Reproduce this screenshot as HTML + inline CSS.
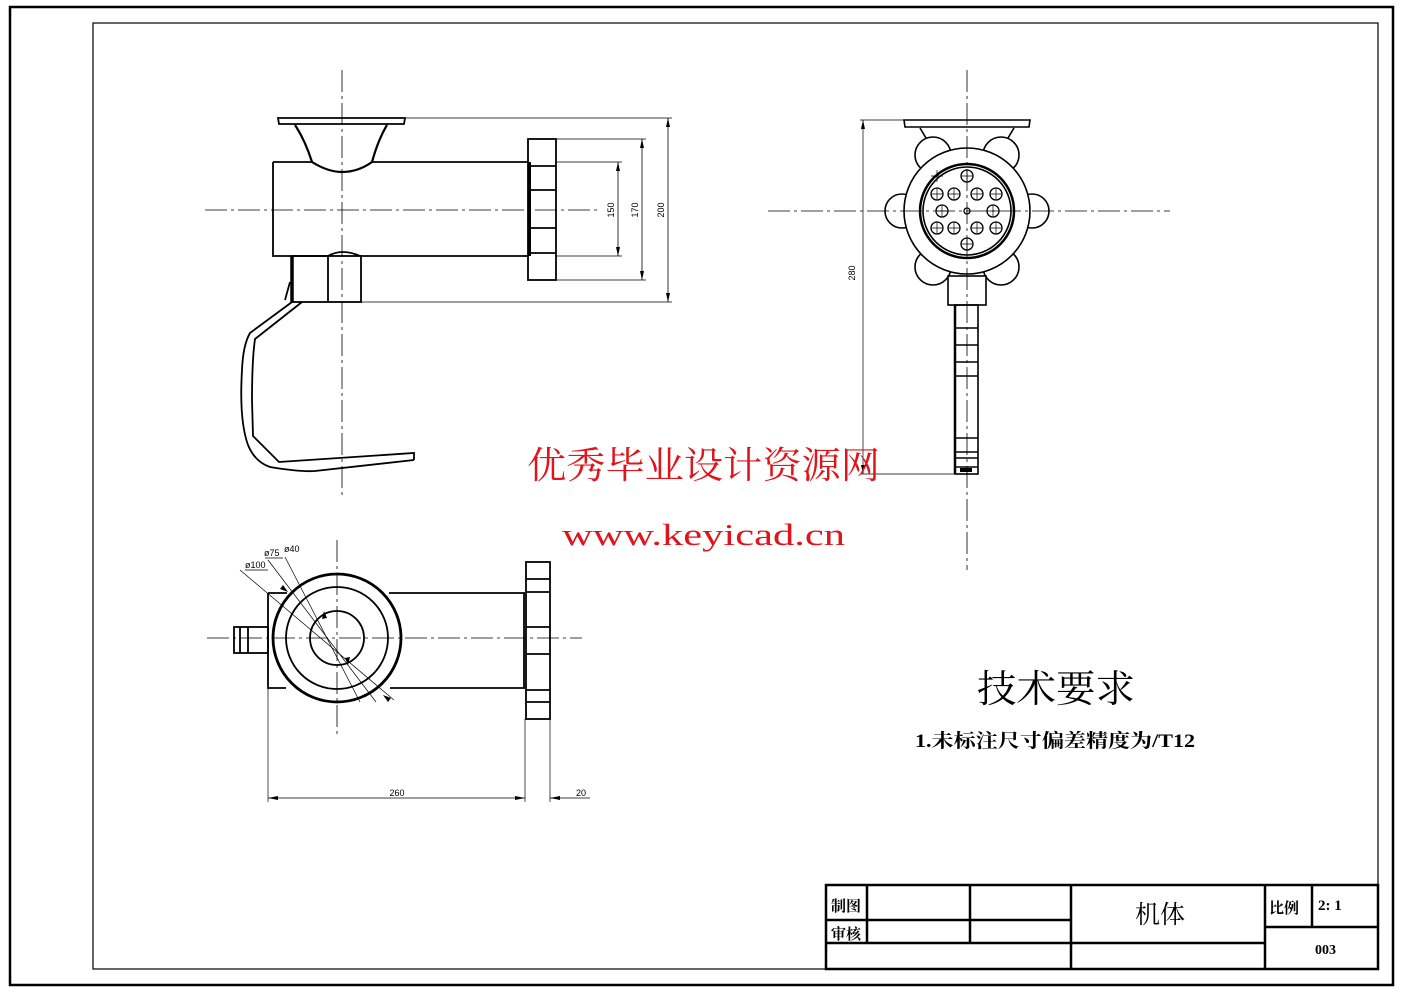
<!DOCTYPE html>
<html><head><meta charset="utf-8"><style>
html,body{margin:0;padding:0;background:#fff;}
svg{display:block;}
.cjk{font-family:"Liberation Serif","Noto Serif CJK SC","Noto Sans CJK SC",serif;}
</style></head><body>
<svg width="1403" height="992" viewBox="0 0 1403 992" xmlns="http://www.w3.org/2000/svg">
<g fill="none" stroke="#000">
<rect x="10" y="7" width="1383" height="978" stroke-width="2.5"/>
<rect x="93" y="23" width="1285" height="946" stroke-width="1.2"/>

<!-- VIEW 1 -->
<g stroke-width="0.8" stroke-dasharray="22,4,3,4">
<line x1="205" y1="210" x2="600" y2="210"/>
<line x1="342" y1="70" x2="342" y2="497"/>
</g>
<g stroke-width="1.8">
<path d="M278,118 L405,118 L404,124 L279,124 Z"/>
<path d="M295,125 Q305,140 312,162 Q328,172 342,172 Q358,172 372,162 Q378,140 387,125" stroke-width="2.2"/>
<path d="M273,162 L312,162 M372,162 L528,162 M273,162 L273,256 L328,256 M360,256 L528,256"/>
<path d="M328,256 Q342,248 360,256"/>
<rect x="528" y="139" width="28" height="141"/>
<path d="M528,166 H556 M528,190 H556 M528,228 H556 M528,253 H556"/>
<line x1="529.5" y1="162" x2="529.5" y2="256" stroke-width="3"/>
<rect x="292" y="256" width="69" height="46"/>
<line x1="328" y1="256" x2="328" y2="302"/>
<line x1="292" y1="256" x2="292" y2="302" stroke-width="3.5"/>
<path d="M292,302 L250,333 Q243,345 242,370 Q239,420 248,445 Q255,462 270,467 Q300,472 315,471 L414,460"/>
<path d="M302,302 L255,339 Q252,360 252,400 L253,436 L279,462 L414,453 L414,460"/>
<path d="M290,282 L285,300"/>
</g>
<g stroke-width="0.8">
<line x1="405" y1="118" x2="672" y2="118"/>
<line x1="361" y1="302" x2="672" y2="302"/>
<line x1="556" y1="139" x2="646" y2="139"/>
<line x1="556" y1="280" x2="646" y2="280"/>
<line x1="556" y1="162" x2="622" y2="162"/>
<line x1="556" y1="256" x2="622" y2="256"/>
<line x1="618" y1="162" x2="618" y2="256"/>
<line x1="642" y1="139" x2="642" y2="280"/>
<line x1="668" y1="118" x2="668" y2="302"/>
</g>
<g fill="#000" stroke="none">
<path d="M618,162 l-2,9 h4z M618,256 l-2,-9 h4z M642,139 l-2,9 h4z M642,280 l-2,-9 h4z M668,118 l-2,9 h4z M668,302 l-2,-9 h4z"/>
</g>

<!-- VIEW 2 -->
<g stroke-width="1.6">
<path d="M904,120 L1030,120 L1029,127 L905,127 Z"/>
<path d="M920,128 L932,148 M1014,128 L1002,148"/>
<g fill="#fff">
<circle cx="902" cy="211" r="17"/>
<circle cx="1032" cy="211" r="17"/>
<circle cx="933" cy="155" r="18"/>
<circle cx="1001" cy="155" r="18"/>
<circle cx="933" cy="267" r="18"/>
<circle cx="1001" cy="267" r="18"/>
<circle cx="967" cy="211" r="63"/>
</g>
<circle cx="967" cy="211" r="47" stroke-width="2.5"/>
<circle cx="967" cy="211" r="44"/>
<rect x="948" y="276" width="38" height="29" fill="#fff"/>
<rect x="955" y="305" width="23" height="169"/>
<path d="M955,328 H978 M955,345 H978 M955,362 H978 M955,376 H978 M955,438 H978 M955,452 H978 M955,458 H978 M955,467 H978"/>
<line x1="955" y1="305" x2="955" y2="474" stroke-width="2.5"/>
</g>
<g stroke-width="0.8" stroke-dasharray="22,4,3,4">
<line x1="768" y1="211" x2="1170" y2="211"/>
<line x1="967" y1="70" x2="967" y2="570"/>
</g>
<g stroke-width="1.3">
<circle cx="967" cy="176" r="6"/><circle cx="937" cy="194" r="6"/><circle cx="954" cy="194" r="6"/>
<circle cx="977" cy="194" r="6"/><circle cx="996" cy="194" r="6"/><circle cx="942" cy="211" r="6"/>
<circle cx="993" cy="211" r="6"/><circle cx="937" cy="228" r="6"/><circle cx="954" cy="228" r="6"/>
<circle cx="977" cy="228" r="6"/><circle cx="996" cy="228" r="6"/><circle cx="967" cy="244" r="6"/>
<circle cx="967" cy="211" r="3"/>
</g>
<g stroke-width="0.7">
<path d="M931,176h12M961,176h12M937,170v12M967,170v12
M931,194h12M948,194h12M971,194h12M990,194h12M937,188v12M954,188v12M977,188v12M996,188v12
M936,211h12M987,211h12M942,205v12M993,205v12
M931,228h12M948,228h12M971,228h12M990,228h12M937,222v12M954,222v12M977,222v12M996,222v12
M961,244h12M967,238v12"/>
<line x1="860" y1="120" x2="904" y2="120"/>
<line x1="860" y1="474" x2="958" y2="474"/>
<line x1="863" y1="120" x2="863" y2="474"/>
</g>
<path d="M863,120 l-2,9 h4z M863,474 l-2,-9 h4z" fill="#000" stroke="none"/>
<rect x="960" y="468" width="12" height="4" fill="#000" stroke="none"/>

<!-- VIEW 3 -->
<g stroke-width="0.8" stroke-dasharray="22,4,3,4">
<line x1="207" y1="638" x2="582" y2="638"/>
<line x1="337" y1="540" x2="337" y2="738"/>
</g>
<g stroke-width="1.8">
<path d="M268,593 H287 M389,593 H525 M268,593 V688 H286 M390,688 H525"/>
<rect x="526" y="562" width="24" height="157"/>
<path d="M526,579H550M526,592H550M526,627H550M526,654H550M526,690H550M526,702H550"/>
<line x1="524" y1="593" x2="524" y2="688"/>
<rect x="234" y="627" width="34" height="26"/>
<path d="M240,627V653M248,627V653"/>
<circle cx="337" cy="638" r="64" stroke-width="2.8"/>
<circle cx="337" cy="638" r="51"/>
<circle cx="337" cy="638" r="27"/>
</g>
<g stroke-width="0.7">
<line x1="240" y1="570" x2="394" y2="700"/>
<line x1="268" y1="560" x2="376" y2="702"/>
<line x1="285" y1="557" x2="360" y2="702"/>
<line x1="245" y1="570" x2="268" y2="570"/>
<line x1="265" y1="558" x2="283" y2="558"/>
<line x1="268" y1="688" x2="268" y2="802"/>
<line x1="525" y1="719" x2="525" y2="802"/>
<line x1="550" y1="719" x2="550" y2="802"/>
<line x1="268" y1="798" x2="525" y2="798"/>
<line x1="550" y1="798" x2="590" y2="798"/>
</g>
<g fill="#000" stroke="none">
<path d="M268,798 l10,-2 v4z M525,798 l-10,-2 v4z M550,798 l10,-2 v4z"/>
<path d="M288,592 l-8,-3 l3,-4z M383,695 l8,3 l-3,4z M324,611 l-2,8 l5,-1z M348,665 l2,-8 l-5,1z"/>
</g>

<!-- title block -->
<g stroke-width="2.5">
<rect x="826" y="885" width="552" height="84"/>
<line x1="867" y1="885" x2="867" y2="943"/>
<line x1="970" y1="885" x2="970" y2="943"/>
<line x1="1071" y1="885" x2="1071" y2="969"/>
<line x1="1265" y1="885" x2="1265" y2="969"/>
<line x1="1312" y1="885" x2="1312" y2="927"/>
<line x1="826" y1="920" x2="1071" y2="920"/>
<line x1="826" y1="943" x2="1265" y2="943"/>
<line x1="1265" y1="927" x2="1378" y2="927"/>
</g>
</g>

<g font-family="Liberation Sans, sans-serif" font-size="9" fill="#000">
<text transform="translate(614,210) rotate(-90)" text-anchor="middle">150</text>
<text transform="translate(638,210) rotate(-90)" text-anchor="middle">170</text>
<text transform="translate(664,210) rotate(-90)" text-anchor="middle">200</text>
<text transform="translate(855,273) rotate(-90)" text-anchor="middle">280</text>
<text x="397" y="796" text-anchor="middle">260</text>
<text x="581" y="796" text-anchor="middle">20</text>
<text x="245" y="568">ø100</text>
<text x="264" y="556">ø75</text>
<text x="284" y="552">ø40</text>
</g>

<g class="cjk" fill="#e0141a">
<text x="527" y="478" font-size="37" textLength="353" lengthAdjust="spacingAndGlyphs">优秀毕业设计资源网</text>
<text x="562" y="545" font-size="31" font-family="Liberation Serif, serif" textLength="283" lengthAdjust="spacingAndGlyphs">www.keyicad.cn</text>
</g>
<g class="cjk" fill="#000">
<text x="977" y="702" font-size="38" textLength="158" lengthAdjust="spacingAndGlyphs">技术要求</text>
<text x="915" y="747" font-size="19" font-weight="bold" textLength="280" lengthAdjust="spacingAndGlyphs">1.未标注尺寸偏差精度为/T12</text>
<text x="831" y="911" font-size="15" font-weight="bold">制图</text>
<text x="831" y="939" font-size="15" font-weight="bold">审核</text>
<text x="1135" y="923" font-size="25">机体</text>
<text x="1269" y="913" font-size="15" font-weight="bold">比例</text>
<text x="1318" y="910" font-size="15" font-weight="bold">2: 1</text>
<text x="1315" y="954" font-size="14" font-weight="bold">003</text>
</g>
</svg>
</body></html>
